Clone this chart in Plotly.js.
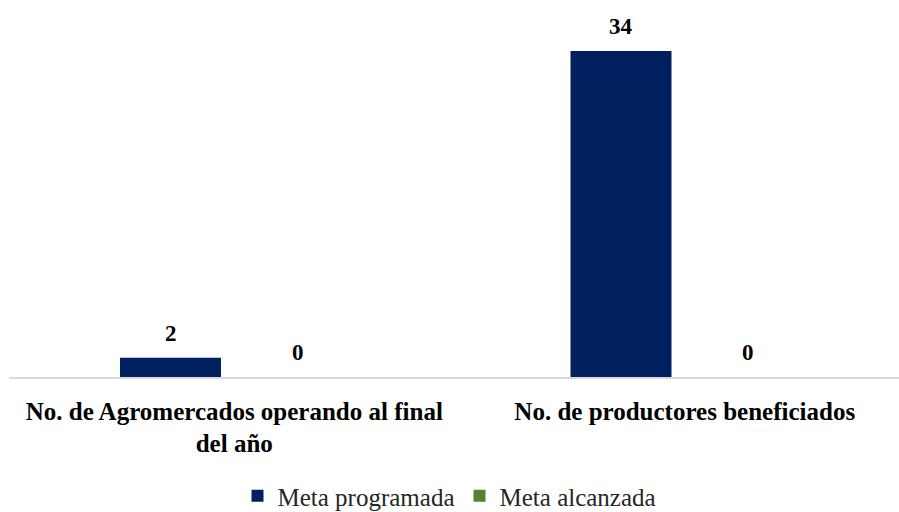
<!DOCTYPE html>
<html>
<head>
<meta charset="utf-8">
<script src="https://cdn.plot.ly/plotly-3.0.1.min.js"></script>
<style>html,body{margin:0;padding:0;background:#fff;}#chart{width:899px;height:512px;}</style>
</head>
<body>
<div id="chart"></div>
<script>
const categories = ["No. de Agromercados operando al final<br>del año", "No. de productores beneficiados"];
const metaProgramada = [2, 34];
const metaAlcanzada = [0, 0];
const seriesNames = ["Meta programada", "Meta alcanzada"];

const serif = "Liberation Serif, DejaVu Serif, serif";
const W = 899, H = 512;
const margin = {l: 9, r: 0, t: 20, b: 135, autoexpand: false};
const xRange = [-0.5, 1.4756];
const bargap = 0.434;

const traces = [
  {type: "bar", name: seriesNames[0], x: categories, y: metaProgramada,
   marker: {color: "#002060"}, hoverinfo: "none"},
  {type: "bar", name: seriesNames[1], x: categories, y: metaAlcanzada,
   marker: {color: "#548235"}, hoverinfo: "none"}
];

// value labels placed over each bar via the axes' own scales
const pxPerCat = (W - margin.l - margin.r) / (xRange[1] - xRange[0]);
const offset = pxPerCat * (1 - bargap) / 4;
const annotations = [];
[metaProgramada, metaAlcanzada].forEach((vals, i) => {
  vals.forEach((v, j) => {
    annotations.push({
      x: categories[j], y: v, xref: "x", yref: "y",
      xshift: (i === 0 ? -1 : 1) * offset, yshift: 10,
      yanchor: "bottom", showarrow: false,
      text: String(v),
      font: {family: serif, size: 23, color: "#000", weight: "bold"}
    });
  });
});

const layout = {
  width: W, height: H,
  margin: margin,
  paper_bgcolor: "#fff", plot_bgcolor: "#fff",
  barmode: "group", bargap: bargap, bargroupgap: 0.208,
  showlegend: true,
  legend: {orientation: "h", x: 0.5, xanchor: "center", xref: "container", yref: "paper", y: -0.269, yanchor: "top",
           font: {family: serif, size: 25, color: "#262626"}},
  xaxis: {type: "category", range: xRange, showline: true, linecolor: "#d9d9d9", linewidth: 1.5,
          automargin: false,
          ticks: "", showgrid: false, zeroline: false, ticklabelstandoff: 11,
          tickfont: {family: serif, size: 25, color: "#000", weight: "bold"}},
  yaxis: {range: [0, 37.24], visible: false, showgrid: false, zeroline: false, automargin: false},
  annotations: annotations,
  font: {family: serif}
};

Plotly.newPlot("chart", traces, layout, {staticPlot: true, displayModeBar: false});
</script>
</body>
</html>
